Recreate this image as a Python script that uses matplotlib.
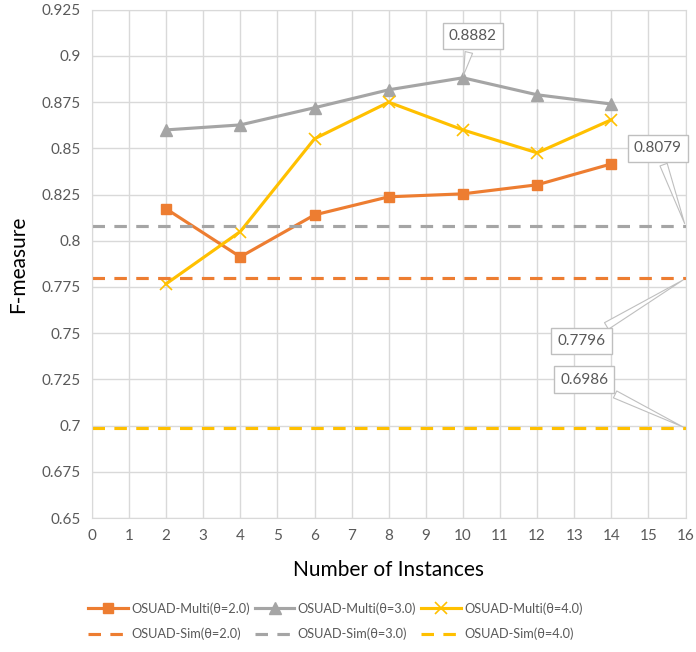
import matplotlib
matplotlib.use("Agg")
import matplotlib.pyplot as plt

plt.rcParams['font.family'] = ['Lato', 'DejaVu Sans']

instances = [2, 4, 6, 8, 10, 12, 14]
multi_t2 = [0.8173, 0.7913, 0.8140, 0.8238, 0.8254, 0.8303, 0.8416]
multi_t3 = [0.8600, 0.8627, 0.8720, 0.8817, 0.8882, 0.8790, 0.8740]
multi_t4 = [0.7767, 0.8050, 0.8552, 0.8750, 0.8600, 0.8476, 0.8655]
sim_t2 = 0.7796
sim_t3 = 0.8079
sim_t4 = 0.6986

x_range = [0, 16]
y_ticks = [0.65, 0.675, 0.7, 0.725, 0.75, 0.775, 0.8, 0.825, 0.85, 0.875, 0.9, 0.925]
y_tick_labels = ['0.65', '0.675', '0.7', '0.725', '0.75', '0.775', '0.8', '0.825',
                 '0.85', '0.875', '0.9', '0.925']

ORANGE = '#ED7D31'
GREY = '#A5A5A5'
YELLOW = '#FFC000'
TXT = '#595959'
GRID = '#D9D9D9'

fig = plt.figure(figsize=(6.96, 6.52), dpi=100)
ax = fig.add_axes([0.132, 0.2055, 0.853, 0.7795])

lw = 2.25
dash = (0, (4, 3))
h1, = ax.plot(instances, multi_t2, color=ORANGE, lw=lw, marker='s', ms=7, label='OSUAD-Multi(θ=2.0)')
h2, = ax.plot(instances, multi_t3, color=GREY, lw=lw, marker='^', ms=8, label='OSUAD-Multi(θ=3.0)')
h3, = ax.plot(instances, multi_t4, color=YELLOW, lw=lw, marker='x', ms=9, mew=1.2, label='OSUAD-Multi(θ=4.0)')
h4, = ax.plot(x_range, [sim_t2, sim_t2], color=ORANGE, lw=lw, ls=dash, label='OSUAD-Sim(θ=2.0)')
h5, = ax.plot(x_range, [sim_t3, sim_t3], color=GREY, lw=lw, ls=dash, label='OSUAD-Sim(θ=3.0)')
h6, = ax.plot(x_range, [sim_t4, sim_t4], color=YELLOW, lw=lw, ls=dash, label='OSUAD-Sim(θ=4.0)')

ax.set_xlim(x_range)
ax.set_ylim(y_ticks[0], y_ticks[-1])
ax.set_xticks(range(0, 17))
ax.set_yticks(y_ticks)
ax.set_yticklabels(y_tick_labels)
ax.grid(True, color=GRID, lw=1)
ax.set_axisbelow(True)
for s in ax.spines.values():
    s.set_color(GRID)
ax.tick_params(length=0, colors=TXT, labelsize=11, pad=8)

ax.set_xlabel('Number of Instances', fontsize=15, color='black', labelpad=12)
ax.set_ylabel('F-measure', fontsize=15, color='black', labelpad=10)

box = dict(boxstyle='square,pad=0.4', fc='white', ec='#BFBFBF', lw=1)
wedge = dict(arrowstyle='wedge,tail_width=0.5,shrink_factor=0.5', fc='white', ec='#BFBFBF', lw=0.8)


def callout(x, y, dx, dy):
    ax.annotate(f'{y:.4f}', xy=(x, y), xytext=(dx, dy), textcoords='offset points',
                ha='center', va='center', fontsize=11, color=TXT, bbox=box,
                arrowprops=wedge, annotation_clip=False, zorder=5)


peak_i = multi_t3.index(max(multi_t3))
callout(instances[peak_i], multi_t3[peak_i], 7, 30)
callout(x_range[1], sim_t3, -20, 56)
callout(x_range[1], sim_t2, -75, -45)
callout(x_range[1], sim_t4, -73, 35)

# row-major order: solid series on the first row, dashed on the second
handles = [h1, h4, h2, h5, h3, h6]
fig.legend(handles=handles, loc='center', bbox_to_anchor=(0.482, 0.047),
           ncol=3, frameon=False, fontsize=9.2, handlelength=3.1,
           columnspacing=0.4, handletextpad=0.25, labelspacing=1.0,
           labelcolor=TXT)

fig.savefig('out.png', dpi=100)
